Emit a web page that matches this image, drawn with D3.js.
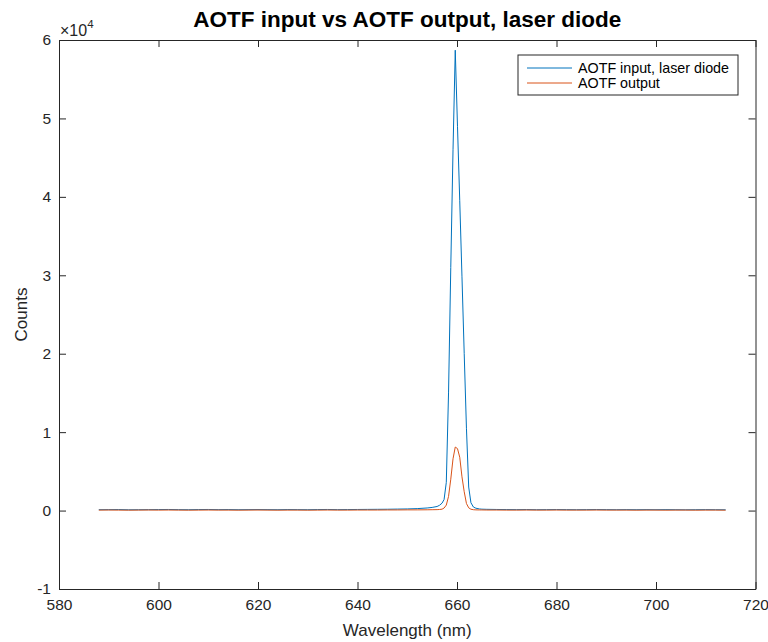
<!DOCTYPE html>
<html>
<head>
<meta charset="utf-8">
<script src="https://cdn.jsdelivr.net/npm/d3@7/dist/d3.min.js"></script>
<style>
  html, body { margin: 0; padding: 0; background: #fff; }
  svg { display: block; font-family: "Liberation Sans", Arial, Helvetica, sans-serif; }
</style>
</head>
<body>
<svg id="chart" width="768" height="642"></svg>
<script>
// Spectrum samples (nm) shared by both traces
const wavelengths = [
  588, 590, 592, 594, 596, 598, 600, 602, 604, 606, 608, 610, 612, 614, 616, 618,
  620, 622, 624, 626, 628, 630, 632, 634, 636, 638, 640, 642, 644, 646, 648, 650,
  652, 654, 655, 656, 656.5, 657, 657.4, 657.85, 658.3, 658.75, 659.2, 659.65,
  660.1, 660.55, 661, 661.45, 661.9, 662.35, 662.8, 663.3, 663.8, 664.5, 665,
  666, 668, 670, 672, 674, 676, 678, 680, 682, 684, 686, 688, 690, 692, 694, 696,
  698, 700, 702, 704, 706, 708, 710, 712, 714
];

// Counts before the AOTF (laser diode)
const inputCounts = [
  110, 120, 130, 100, 110, 120, 130, 140, 120, 110, 130, 140, 120, 130, 110, 120,
  130, 120, 110, 130, 120, 110, 130, 140, 120, 130, 140, 150, 160, 170, 190, 210,
  250, 330, 400, 520, 680, 950, 1400, 3600, 15000, 31000, 46000, 58700,
  49000, 39500, 29800, 20000, 10500, 3000, 1000, 450, 300, 210, 180,
  160, 140, 130, 120, 130, 110, 120, 130, 120, 110, 120, 130, 120, 110, 120, 110,
  120, 110, 120, 110, 100, 110, 120, 110, 100
];

// Counts after the AOTF
const outputCounts = [
  60, 70, 60, 50, 60, 70, 60, 70, 60, 50, 60, 70, 60, 60, 50, 60,
  70, 60, 50, 60, 60, 50, 60, 70, 60, 60, 70, 70, 70, 80, 80, 90,
  90, 100, 110, 120, 140, 180, 320, 700, 1800, 4000, 6600, 8100,
  7900, 6800, 4300, 2400, 900, 350, 170, 110, 90, 80, 80,
  70, 70, 60, 60, 70, 60, 60, 70, 60, 60, 60, 70, 60, 60, 60, 50,
  60, 60, 50, 60, 60, 50, 60, 60, 50
];

const xTicks = [580, 600, 620, 640, 660, 680, 700, 720];
const yTicks = [-1, 0, 1, 2, 3, 4, 5, 6];           // in units of 10^4
const seriesNames = ["AOTF input, laser diode", "AOTF output"];
const seriesColors = ["#0072BD", "#D95319"];

const svg = d3.select("#chart");
const m = { left: 59, right: 755.5, top: 40, bottom: 589 };

const x = d3.scaleLinear().domain([580, 720]).range([m.left, m.right]);
const y = d3.scaleLinear().domain([-1e4, 6e4]).range([m.bottom, m.top]);

const axisColor = "#262626";
const tickLen = 7;
const tickFont = "15.5px";

// Axes on all four sides, ticks pointing inward
const gx = svg.append("g").attr("transform", `translate(0,${m.bottom})`)
  .call(d3.axisBottom(x).tickValues(xTicks).tickSizeInner(-tickLen).tickSizeOuter(0).tickPadding(10));
const gxTop = svg.append("g").attr("transform", `translate(0,${m.top})`)
  .call(d3.axisTop(x).tickValues(xTicks).tickSizeInner(-tickLen).tickSizeOuter(0).tickFormat(""));
const gy = svg.append("g").attr("transform", `translate(${m.left},0)`)
  .call(d3.axisLeft(y).tickValues(yTicks.map(v => v * 1e4)).tickSizeInner(-tickLen).tickSizeOuter(0)
    .tickPadding(8).tickFormat(v => String(Math.round(v / 1e4))));
const gyRight = svg.append("g").attr("transform", `translate(${m.right},0)`)
  .call(d3.axisRight(y).tickValues(yTicks.map(v => v * 1e4)).tickSizeInner(-tickLen).tickSizeOuter(0).tickFormat(""));

[gx, gxTop, gy, gyRight].forEach(g => {
  g.select(".domain").attr("stroke", axisColor).attr("stroke-width", 1);
  g.selectAll(".tick line").attr("stroke", axisColor).attr("stroke-width", 1);
  g.selectAll(".tick text").attr("fill", axisColor).style("font-size", tickFont)
    .style("font-family", "'Liberation Sans', Arial, sans-serif");
});

// Traces: input first, output drawn on top
const line = d3.line().x(d => x(d[0])).y(d => y(d[1]));
const plot = svg.append("g");
[inputCounts, outputCounts].forEach((vals, i) => {
  plot.append("path")
    .datum(wavelengths.map((w, k) => [w, vals[k]]))
    .attr("fill", "none")
    .attr("stroke", seriesColors[i])
    .attr("stroke-width", 1)
    .attr("stroke-linejoin", "round")
    .attr("d", line);
});

// Exponent marker
const ex = svg.append("text").attr("x", m.left + 1).attr("y", 36)
  .attr("fill", axisColor).style("font-size", "16px");
ex.append("tspan").text("\u00d710");
ex.append("tspan").attr("dy", -8).style("font-size", "11.5px").text("4");

// Title and labels
svg.append("text").attr("x", (m.left + m.right) / 2).attr("y", 27)
  .attr("text-anchor", "middle").attr("font-weight", "bold")
  .style("font-size", "22.5px").attr("fill", "#000")
  .text("AOTF input vs AOTF output, laser diode");
svg.append("text").attr("x", (m.left + m.right) / 2).attr("y", 636)
  .attr("text-anchor", "middle").style("font-size", "17px").attr("fill", axisColor)
  .text("Wavelength (nm)");
svg.append("text").attr("transform", `translate(27,${(m.top + m.bottom) / 2}) rotate(-90)`)
  .attr("text-anchor", "middle").style("font-size", "17px").attr("fill", axisColor)
  .text("Counts");

// Legend
const lg = svg.append("g").attr("transform", "translate(518,55)");
lg.append("rect").attr("width", 220).attr("height", 40)
  .attr("fill", "#fff").attr("stroke", axisColor).attr("stroke-width", 1);
seriesNames.forEach((name, i) => {
  const yy = 13 + i * 15;
  lg.append("line").attr("x1", 9).attr("x2", 54).attr("y1", yy).attr("y2", yy)
    .attr("stroke", seriesColors[i]).attr("stroke-width", 1);
  lg.append("text").attr("x", 60).attr("y", yy + 5)
    .style("font-size", "14.3px").attr("fill", "#000").text(name);
});
</script>
</body>
</html>
